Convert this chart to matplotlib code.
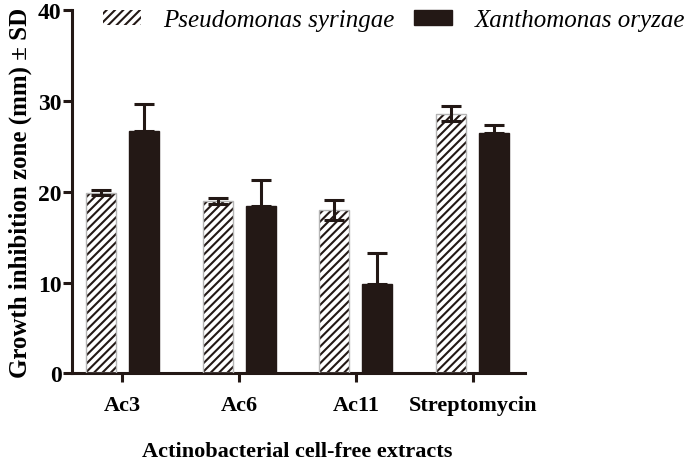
import numpy as np
import matplotlib
matplotlib.use("Agg")
import matplotlib.pyplot as plt
from matplotlib.patches import Patch

plt.rcParams['font.family'] = ['Liberation Serif', 'DejaVu Serif']
plt.rcParams['hatch.linewidth'] = 1.5

categories = ["Ac3", "Ac6", "Ac11", "Streptomycin"]
pseudo_mean = [19.9, 19.0, 18.0, 28.6]
pseudo_sd = [0.3, 0.3, 1.1, 0.8]
xantho_mean = [26.7, 18.4, 9.8, 26.5]
xantho_sd = [3.0, 2.9, 3.5, 0.8]
series_names = ["Pseudomonas syringae", "Xanthomonas oryzae"]

fig = plt.figure(figsize=(6.89, 4.64), dpi=100)
ax = fig.add_axes([0.1045, 0.193, 0.658, 0.783])

x = np.arange(len(categories))
w = 0.256
off = 0.184
dark = "#231815"
grey = "#b5b5b5"
hatch = "////"

# hatched bars: hatch drawn in dark, outline in light grey on top
ax.bar(x - off, pseudo_mean, w, color="white", edgecolor=dark,
       hatch=hatch, linewidth=0, zorder=2)
ax.bar(x - off, pseudo_mean, w, color="none", edgecolor=grey,
       linewidth=1.0, zorder=3)
ax.errorbar(x - off, pseudo_mean, yerr=pseudo_sd, fmt="none", ecolor=dark,
            elinewidth=2.2, capsize=7, capthick=2.2, zorder=4)
ax.bar(x + off, xantho_mean, w, color=dark, edgecolor=dark, zorder=2)
ax.errorbar(x + off, xantho_mean, yerr=[[0] * 4, xantho_sd], fmt="none",
            ecolor=dark, elinewidth=2.2, capsize=7, capthick=2.2, zorder=1)

ax.set_xlim(-0.43, 3.45)
ax.set_ylim(0, 40)
ax.set_yticks([0, 10, 20, 30, 40])
ax.set_xticks(x)
ax.set_xticklabels(categories)
for lab in ax.get_xticklabels():
    lab.set_fontweight("bold")
    lab.set_fontsize(16)
for lab in ax.get_yticklabels():
    lab.set_fontweight("bold")
    lab.set_fontsize(17)

for s in ["top", "right"]:
    ax.spines[s].set_visible(False)
for s in ["left", "bottom"]:
    ax.spines[s].set_linewidth(2.2)
    ax.spines[s].set_color(dark)
ax.tick_params(axis="both", direction="out", length=6.5, width=2.2,
               color=dark)
ax.tick_params(axis="x", pad=9)
ax.tick_params(axis="y", pad=1)

ax.set_ylabel("Growth inhibition zone (mm) \u00b1 SD", fontsize=18,
              fontweight="bold", labelpad=4)
fig.text(297 / 689, 1 - 452 / 464, "Actinobacterial cell-free extracts",
         fontsize=16, fontweight="bold", ha="center", va="center")

handles = [Patch(facecolor="white", edgecolor=dark, hatch=hatch,
                 linewidth=0),
           Patch(facecolor=dark, edgecolor=dark)]
leg = fig.legend(handles, series_names, loc="upper left",
                 bbox_to_anchor=(103 / 689, 1 - 10 / 464), ncol=2,
                 frameon=False, prop={"style": "italic", "size": 18},
                 handlelength=1.5, handleheight=0.55, columnspacing=0.8,
                 handletextpad=0.9, borderpad=0, borderaxespad=0)

fig.savefig("out.png", dpi=100)
